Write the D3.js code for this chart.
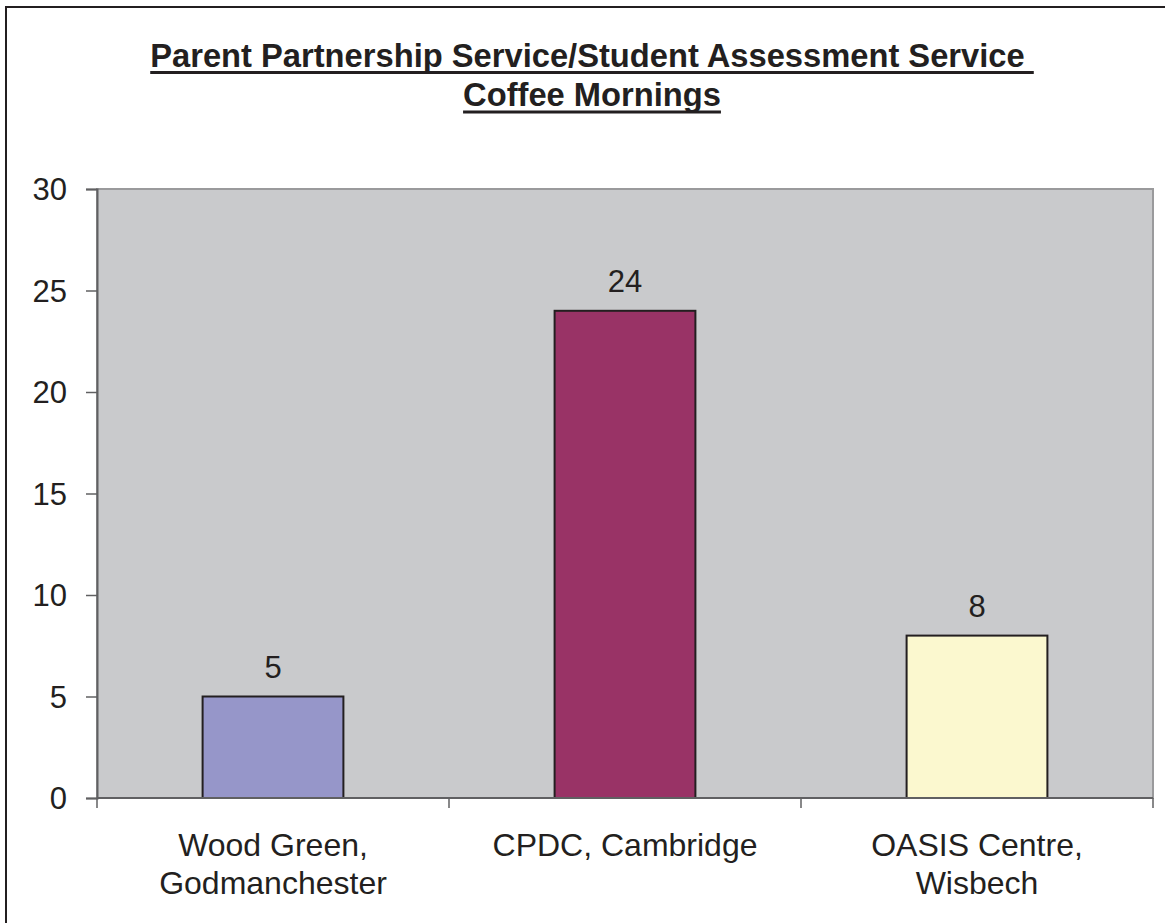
<!DOCTYPE html>
<html>
<head>
<meta charset="utf-8">
<script src="https://cdn.jsdelivr.net/npm/d3@7/dist/d3.min.js"></script>
<style>
  html, body { margin: 0; padding: 0; background: #ffffff; }
  svg { display: block; }
  text { font-family: "Liberation Sans", Arial, sans-serif; fill: #231f20; }
</style>
</head>
<body>
<svg id="chart" width="1165" height="923"></svg>
<script>
// Coffee morning attendance by venue
const categories = [["Wood Green,", "Godmanchester"], ["CPDC, Cambridge"], ["OASIS Centre,", "Wisbech"]];
const values = [5, 24, 8];
const barColors = ["#9696c9", "#993366", "#fbf8cf"];
const yTicks = [0, 5, 10, 15, 20, 25, 30];
const titleLines = ["Parent Partnership Service/Student Assessment Service ", "Coffee Mornings"];

const W = 1165, H = 923;
const plot = { left: 97, top: 189, right: 1153, bottom: 798 };

const svg = d3.select("#chart");

// Outer chart frame
svg.append("rect")
  .attr("x", 6).attr("y", 7)
  .attr("width", W + 10).attr("height", H + 10)
  .attr("fill", "#ffffff").attr("stroke", "#231f20").attr("stroke-width", 2);

const x = d3.scaleBand()
  .domain(d3.range(values.length))
  .range([plot.left, plot.right])
  .padding(0);

const y = d3.scaleLinear()
  .domain([0, 30])
  .range([plot.bottom, plot.top]);

// Plot area background with grey border
svg.append("rect")
  .attr("x", plot.left).attr("y", plot.top)
  .attr("width", plot.right - plot.left).attr("height", plot.bottom - plot.top)
  .attr("fill", "#c9cacc").attr("stroke", "#9a9a9c").attr("stroke-width", 2);

// Bars
const barW = x.bandwidth() * 0.4;
svg.append("g").selectAll("rect")
  .data(values)
  .join("rect")
  .attr("x", (d, i) => x(i) + (x.bandwidth() - barW) / 2)
  .attr("y", d => y(d))
  .attr("width", barW)
  .attr("height", d => y(0) - y(d))
  .attr("fill", (d, i) => barColors[i])
  .attr("stroke", "#231f20")
  .attr("stroke-width", 2);

// Value labels
svg.append("g").selectAll("text")
  .data(values)
  .join("text")
  .attr("x", (d, i) => x(i) + x.bandwidth() / 2)
  .attr("y", d => y(d) - 19)
  .attr("text-anchor", "middle")
  .style("font-size", "31px")
  .text(d => d);

// Y axis
const yAxis = svg.append("g")
  .attr("transform", `translate(${plot.left},0)`)
  .call(d3.axisLeft(y).tickValues(yTicks).tickSize(11).tickPadding(19));
yAxis.select(".domain").attr("stroke", "#606062").attr("stroke-width", 2);
yAxis.selectAll(".tick line").attr("stroke", "#606062").attr("stroke-width", 1.5);
yAxis.selectAll(".tick text")
  .style("font-size", "31px")
  .style("font-family", "'Liberation Sans', Arial, sans-serif")
  .attr("fill", "#231f20")
  .attr("dy", "0.34em");

// X axis: ticks at category boundaries
const xAxisG = svg.append("g");
xAxisG.append("line")
  .attr("x1", plot.left).attr("x2", plot.right)
  .attr("y1", y(0)).attr("y2", y(0))
  .attr("stroke", "#606062").attr("stroke-width", 2);
const boundaries = d3.range(values.length + 1).map(i => i < values.length ? x(i) : x(i - 1) + x.bandwidth());
xAxisG.selectAll("line.tick")
  .data(boundaries)
  .join("line")
  .attr("class", "tick")
  .attr("x1", d => d).attr("x2", d => d)
  .attr("y1", y(0)).attr("y2", y(0) + 10)
  .attr("stroke", "#606062").attr("stroke-width", 1.5);

// Category labels
const catG = svg.append("g");
categories.forEach((lines, i) => {
  const t = catG.append("text")
    .attr("x", x(i) + x.bandwidth() / 2)
    .attr("y", 856)
    .attr("text-anchor", "middle")
    .style("font-size", "32px");
  lines.forEach((ln, j) => {
    t.append("tspan")
      .attr("x", x(i) + x.bandwidth() / 2)
      .attr("dy", j === 0 ? 0 : 38)
      .text(ln);
  });
});

// Title, bold and underlined
const titleG = svg.append("g");
const baselines = [66.5, 106];
titleLines.forEach((ln, i) => {
  const t = titleG.append("text")
    .attr("x", 592)
    .attr("y", baselines[i])
    .attr("text-anchor", "middle")
    .attr("xml:space", "preserve")
    .style("white-space", "pre")
    .style("font-size", "32.7px")
    .style("font-weight", "bold")
    .text(ln);
  const len = t.node().getComputedTextLength();
  titleG.append("line")
    .attr("x1", 592 - len / 2).attr("x2", 592 + len / 2)
    .attr("y1", baselines[i] + 6).attr("y2", baselines[i] + 6)
    .attr("stroke", "#231f20").attr("stroke-width", 3);
});
</script>
</body>
</html>
